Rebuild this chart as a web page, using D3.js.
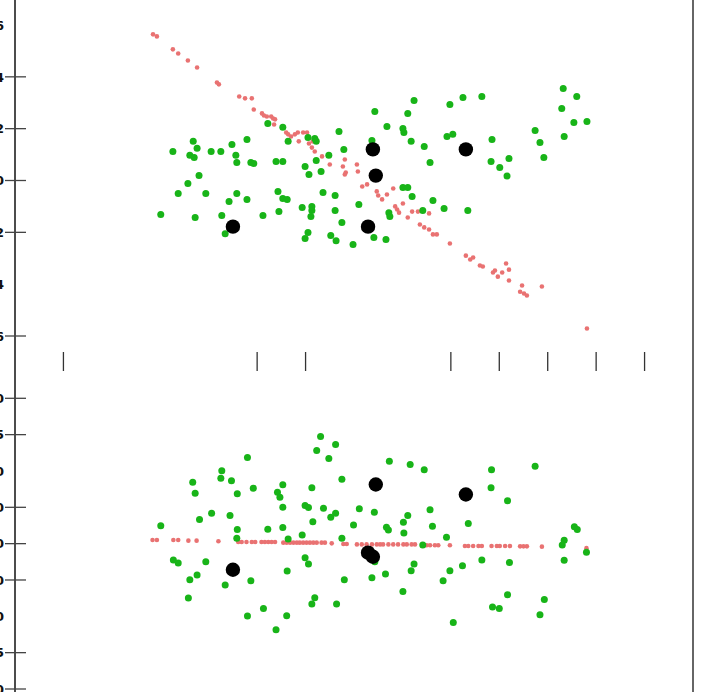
<!DOCTYPE html>
<html>
<head>
<meta charset="utf-8">
<script src="https://cdn.jsdelivr.net/npm/d3@7"></script>
<style>
html,body{margin:0;padding:0;background:#fff;overflow:hidden;}
svg{display:block;}
</style>
</head>
<body>
<svg id="chart" width="702" height="692"></svg>
<script>
// ---------- data ----------
const xTicks = [1, 5, 6, 9, 10, 11, 12, 13];

const topTicks = [0.06, 0.04, 0.02, 0.00, -0.02, -0.04, -0.06];
const topTickLabels = ["0.06", "0.04", "0.02", "0.00", "-0.02", "-0.04", "-0.06"];
const topTickMarked = [false, true, true, true, true, false, true];

const bottomTicks = [0.20, 0.15, 0.10, 0.05, 0.00, -0.05, -0.10, -0.15, -0.20];
const bottomTickLabels = ["0.20", "0.15", "0.10", "0.050", "0.00", "-0.050", "-0.10", "-0.15", "-0.20"];
const bottomTickMarked = [true, true, false, true, true, true, false, true, true];

const topRed = [
[2.85,0.0564],[2.93,0.0556],[3.26,0.0506],[3.37,0.0490],[3.57,0.0463],[3.76,0.0436],[4.17,0.0378],[4.21,0.0371],
[4.63,0.0324],[4.75,0.0317],[4.89,0.0317],[4.93,0.0274],[5.10,0.0259],[5.14,0.0251],[5.20,0.0247],[5.29,0.0247],
[5.33,0.0239],[5.37,0.0236],[5.35,0.0216],[5.60,0.0185],[5.64,0.0178],[5.70,0.0170],[5.78,0.0178],[5.84,0.0185],
[5.95,0.0185],[6.03,0.0185],[5.86,0.0151],[6.07,0.0143],[6.13,0.0127],[6.19,0.0112],[6.34,0.0093],[6.50,0.0062],
[6.15,0.0151],[6.77,0.0054],[6.83,0.0031],[6.81,0.0023],[7.06,0.0062],[7.08,0.0035],[6.81,0.0081],[7.17,-0.0023],
[7.27,-0.0015],[7.47,-0.0042],[7.50,-0.0058],[7.58,-0.0073],[7.68,-0.0054],[7.81,-0.0031],[7.85,-0.0100],[7.89,-0.0112],
[7.93,-0.0124],[8.01,-0.0089],[8.11,-0.0143],[8.20,-0.0120],[8.32,-0.0120],[8.36,-0.0170],[8.45,-0.0181],[8.55,-0.0189],
[8.55,-0.0127],[8.63,-0.0208],[8.71,-0.0208],[8.98,-0.0243],[9.31,-0.0290],[9.40,-0.0305],[9.46,-0.0297],[9.60,-0.0328],
[9.66,-0.0332],[9.87,-0.0355],[9.91,-0.0347],[9.97,-0.0371],[10.06,-0.0355],[10.14,-0.0320],[10.20,-0.0344],[10.20,-0.0386],
[10.47,-0.0405],[10.43,-0.0429],[10.51,-0.0436],[10.57,-0.0444],[10.88,-0.0409],[11.81,-0.0571]
];

const topGreen = [
[5.22,0.0220],[5.53,0.0205],[5.64,0.0151],[6.05,0.0166],[6.19,0.0162],[6.22,0.0151],[6.69,0.0189],[3.68,0.0151],
[3.76,0.0124],[3.26,0.0112],[3.61,0.0097],[3.70,0.0089],[4.05,0.0112],[4.25,0.0112],[4.48,0.0139],[4.79,0.0158],
[4.56,0.0097],[4.58,0.0069],[4.87,0.0069],[4.93,0.0066],[5.39,0.0073],[5.53,0.0073],[5.99,0.0054],[6.07,0.0023],
[6.22,0.0077],[6.32,0.0035],[6.48,0.0097],[3.80,0.0019],[3.57,-0.0012],[3.37,-0.0050],[3.94,-0.0050],[4.58,-0.0050],
[4.42,-0.0081],[4.79,-0.0073],[5.43,-0.0042],[5.53,-0.0069],[5.62,-0.0073],[6.36,-0.0046],[6.61,-0.0058],[3.01,-0.0131],
[3.72,-0.0143],[4.27,-0.0135],[4.34,-0.0205],[5.12,-0.0135],[5.45,-0.0120],[5.93,-0.0104],[6.13,-0.0100],[6.13,-0.0116],
[6.11,-0.0139],[6.61,-0.0116],[6.05,-0.0201],[5.99,-0.0224],[6.52,-0.0212],[6.63,-0.0232],[6.79,0.0120],[7.37,0.0154],
[7.43,0.0266],[7.68,0.0208],[8.01,0.0201],[8.03,0.0185],[8.11,0.0259],[8.24,0.0309],[8.18,0.0151],[8.45,0.0131],
[8.57,0.0069],[8.98,0.0293],[9.25,0.0320],[9.64,0.0324],[8.92,0.0170],[9.04,0.0178],[9.85,0.0158],[9.83,0.0073],
[10.01,0.0050],[10.20,0.0085],[10.16,0.0017],[10.74,0.0193],[10.84,0.0147],[10.92,0.0089],[11.32,0.0355],[11.60,0.0324],
[11.29,0.0278],[11.54,0.0224],[11.81,0.0228],[11.34,0.0170],[8.01,-0.0027],[8.11,-0.0027],[8.20,-0.0062],[8.63,-0.0077],
[8.42,-0.0116],[8.86,-0.0108],[9.35,-0.0116],[7.72,-0.0124],[7.74,-0.0139],[7.10,-0.0093],[6.75,-0.0162],[7.41,-0.0220],
[7.66,-0.0228],[6.98,-0.0247]
];

const blackX = [4.50, 7.39, 7.45, 9.31, 7.29];
const topBlackY = [-0.0178, 0.0120, 0.0019, 0.0120, -0.0178];
const bottomBlackY = [-0.0359, -0.0180, 0.0814, 0.0676, -0.0124];

const bottomRed = [
[2.84,0.0051],[2.93,0.0051],[3.27,0.0051],[3.37,0.0051],[3.58,0.0041],[3.75,0.0041],[4.20,0.0032],
[4.61,0.0023],[4.68,0.0023],[4.78,0.0023],[4.89,0.0023],[4.96,0.0023],[5.09,0.0023],[5.16,0.0023],[5.23,0.0023],[5.30,0.0023],[5.37,0.0023],
[5.54,0.0014],[5.61,0.0014],[5.68,0.0014],[5.75,0.0014],[5.82,0.0014],[5.88,0.0014],[5.95,0.0014],[6.02,0.0014],[6.09,0.0014],[6.16,0.0014],[6.23,0.0014],[6.33,0.0014],[6.40,0.0014],
[6.54,0.0004],[6.78,-0.0004],[6.85,-0.0004],
[7.06,-0.0010],[7.16,-0.0010],[7.26,-0.0010],[7.37,-0.0010],[7.47,-0.0010],[7.54,-0.0010],[7.60,-0.0010],[7.71,-0.0010],[7.81,-0.0010],[7.91,-0.0010],[8.02,-0.0010],[8.09,-0.0010],[8.19,-0.0010],[8.26,-0.0010],
[8.43,-0.0023],[8.50,-0.0023],[8.57,-0.0023],[8.67,-0.0023],[8.74,-0.0023],[8.98,-0.0023],
[9.29,-0.0032],[9.36,-0.0032],[9.46,-0.0032],[9.57,-0.0032],[9.64,-0.0032],[9.84,-0.0032],[9.95,-0.0032],[10.01,-0.0032],[10.12,-0.0032],[10.22,-0.0032],
[10.43,-0.0037],[10.50,-0.0037],[10.57,-0.0037],[10.88,-0.0041],[11.80,-0.0062]
];

const bottomGreen = [
[6.31,0.1476],[6.23,0.1283],[6.62,0.1366],[6.48,0.1172],[4.80,0.1186],[4.27,0.1003],[4.25,0.0901],[3.67,0.0846],
[3.72,0.0694],[4.47,0.0865],[4.59,0.0686],[4.92,0.0763],[5.53,0.0810],[5.42,0.0708],[5.47,0.0639],[6.13,0.0768],
[5.53,0.0501],[5.99,0.0524],[6.06,0.0497],[6.37,0.0487],[6.52,0.0363],[6.62,0.0418],[4.06,0.0418],[3.81,0.0331],
[4.44,0.0386],[3.01,0.0248],[4.59,0.0193],[5.22,0.0197],[5.53,0.0221],[5.93,0.0120],[6.15,0.0303],[4.58,0.0073],
[5.64,0.0065],[3.27,-0.0225],[3.37,-0.0266],[3.94,-0.0248],[5.99,-0.0193],[6.06,-0.0280],[5.62,-0.0377],[3.61,-0.0497],
[3.76,-0.0432],[4.34,-0.0570],[4.87,-0.0510],[3.58,-0.0749],[6.19,-0.0745],[6.13,-0.0832],[5.13,-0.0892],[4.80,-0.0997],
[5.61,-0.0993],[5.39,-0.1186],[6.64,-0.0832],[7.73,0.1135],[8.16,0.1090],[8.45,0.1017],[6.75,0.0887],[9.84,0.1017],
[10.74,0.1066],[9.83,0.0768],[10.17,0.0589],[7.11,0.0479],[7.42,0.0432],[8.11,0.0386],[8.02,0.0294],[8.57,0.0465],
[6.99,0.0258],[7.67,0.0225],[7.71,0.0189],[8.03,0.0148],[8.62,0.0239],[9.36,0.0276],[8.91,0.0087],[6.75,0.0073],
[11.55,0.0234],[11.61,0.0193],[11.34,0.0046],[11.30,-0.0018],[8.42,-0.0018],[11.80,-0.0120],[7.43,-0.0248],[8.24,-0.0280],
[8.18,-0.0372],[7.65,-0.0418],[7.37,-0.0469],[8.98,-0.0372],[9.24,-0.0303],[9.64,-0.0225],[10.21,-0.0258],[11.34,-0.0230],
[6.80,-0.0497],[8.84,-0.0510],[8.01,-0.0658],[10.17,-0.0703],[9.86,-0.0873],[10.00,-0.0892],[10.93,-0.0768],[10.84,-0.0979],
[9.05,-0.1086]
];

// ---------- scales ----------
const W = 702, H = 692;
const x = d3.scaleLinear().domain([0, 14]).range([15, 693]);
const yTop = d3.scaleLinear().domain([-0.06, 0.06]).range([336, 25]);
const yBot = d3.scaleLinear().domain([-0.20, 0.20]).range([689, 398.3]);

const RED = "#e97272", GREEN = "#18b418", BLACK = "#000";

const svg = d3.select("#chart");
svg.append("rect").attr("width", W).attr("height", H).attr("fill", "#fff");

// frame lines
svg.append("line").attr("x1", 15).attr("x2", 15).attr("y1", 0).attr("y2", H)
  .attr("stroke", "#111").attr("stroke-width", 1.5);
svg.append("line").attr("x1", 693).attr("x2", 693).attr("y1", 0).attr("y2", H)
  .attr("stroke", "#333").attr("stroke-width", 1.5);

// y axes
function yAxis(scale, vals, labels, marked) {
  const g = svg.append("g");
  const t = g.selectAll("g").data(vals).join("g")
    .attr("transform", d => `translate(0,${scale(d)})`);
  t.filter((d, i) => marked[i]).append("line")
    .attr("x1", 5).attr("x2", 26).attr("stroke", "#444").attr("stroke-width", 1.3);
  t.append("text").attr("x", 4).attr("dy", "0.36em").attr("text-anchor", "end")
    .attr("font-family", "DejaVu Sans, sans-serif").attr("font-weight", "bold")
    .attr("font-size", 13).attr("fill", "#111")
    .text((d, i) => labels[i]);
}
yAxis(yTop, topTicks, topTickLabels, topTickMarked);
yAxis(yBot, bottomTicks, bottomTickLabels, bottomTickMarked);

// x ticks between panels
svg.append("g").selectAll("line").data(xTicks).join("line")
  .attr("x1", d => x(d)).attr("x2", d => x(d))
  .attr("y1", 352).attr("y2", 371)
  .attr("stroke", "#333").attr("stroke-width", 1.3);

// points
function dots(data, ys, r, color) {
  svg.append("g").selectAll("circle").data(data).join("circle")
    .attr("cx", d => x(d[0])).attr("cy", d => ys(d[1]))
    .attr("r", r).attr("fill", color);
}
dots(topRed, yTop, 2.3, RED);
dots(bottomRed, yBot, 2.3, RED);
dots(topGreen, yTop, 3.5, GREEN);
dots(bottomGreen, yBot, 3.5, GREEN);
dots(blackX.map((v, i) => [v, topBlackY[i]]), yTop, 7.2, BLACK);
dots(blackX.map((v, i) => [v, bottomBlackY[i]]), yBot, 7.2, BLACK);
</script>
</body>
</html>
